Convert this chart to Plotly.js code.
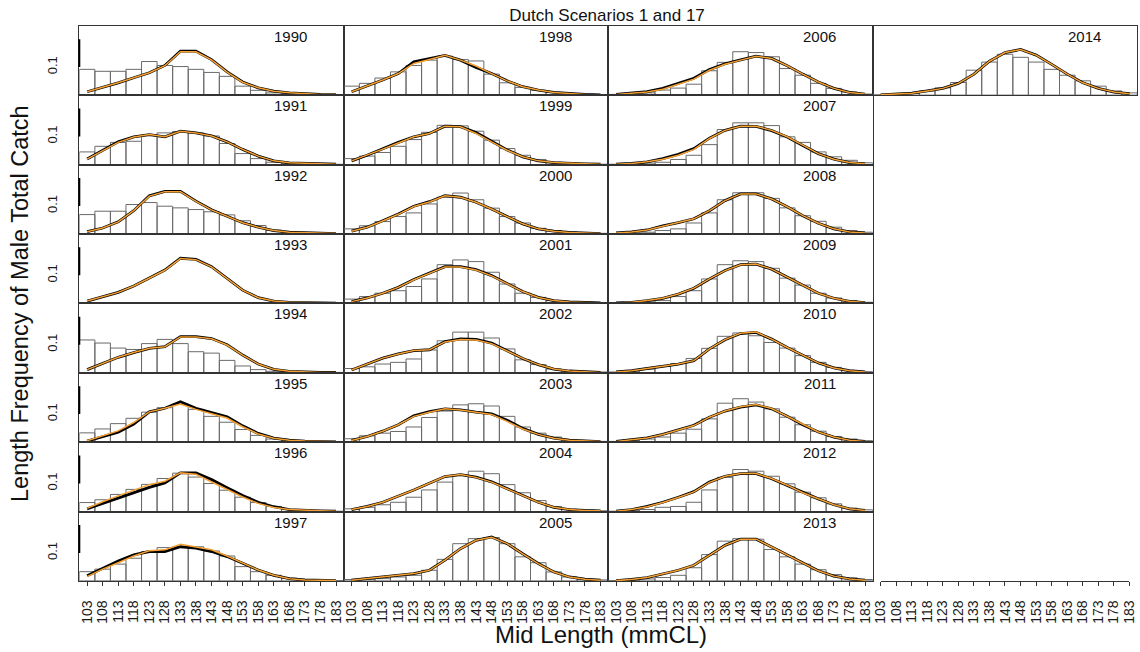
<!DOCTYPE html>
<html><head><meta charset="utf-8">
<script src="https://cdn.plot.ly/plotly-3.0.1.min.js"></script>
<style>html,body{margin:0;padding:0;background:#fff}#chart{width:1140px;height:652px}</style>
</head><body><div id="chart"></div>
<script>
const mids = [103,108,113,118,123,128,133,138,143,148,153,158,163,168,173,178,183];
const years = [1990,1991,1992,1993,1994,1995,1996,1997,1998,1999,2000,2001,2002,2003,2004,2005,2006,2007,2008,2009,2010,2011,2012,2013,2014];

// observed proportions (bars)
const obs_1990 = [0.092,0.085,0.085,0.092,0.120,0.106,0.102,0.092,0.081,0.067,0.032,0.017,0.008,0.005,0.002,0.001,0.0004];
const obs_1991 = [0.045,0.065,0.079,0.083,0.105,0.113,0.118,0.113,0.102,0.075,0.039,0.021,0.008,0.005,0.0025,0.001,0.0007];
const obs_1992 = [0.069,0.081,0.081,0.105,0.112,0.099,0.093,0.087,0.079,0.068,0.047,0.030,0.014,0.007,0.0036,0.002,0.001];
const obs_1993 = null;
const obs_1994 = [0.117,0.106,0.088,0.083,0.104,0.119,0.104,0.075,0.070,0.044,0.024,0.011,0.005,0.0025,0.001,0.001,0.001];
const obs_1995 = [0.033,0.047,0.066,0.085,0.107,0.123,0.136,0.117,0.092,0.071,0.045,0.024,0.011,0.005,0.0025,0.001,0.001];
const obs_1996 = [0.032,0.042,0.061,0.079,0.097,0.118,0.137,0.123,0.100,0.076,0.051,0.032,0.018,0.007,0.0036,0.002,0.001];
const obs_1997 = [0.033,0.042,0.060,0.081,0.105,0.119,0.122,0.122,0.107,0.089,0.051,0.033,0.020,0.0096,0.0036,0.002,0.001];
const obs_1998 = [0.032,0.042,0.061,0.083,0.106,0.125,0.139,0.127,0.122,0.075,0.044,0.0275,0.017,0.0096,0.005,0.0025,0.001];
const obs_1999 = [0.021,0.030,0.043,0.065,0.089,0.115,0.140,0.138,0.119,0.087,0.057,0.033,0.018,0.008,0.005,0.0025,0.001];
const obs_2000 = [0.018,0.029,0.044,0.062,0.075,0.107,0.131,0.146,0.122,0.092,0.062,0.039,0.020,0.012,0.006,0.0036,0.002];
const obs_2001 = [0.015,0.024,0.036,0.045,0.060,0.087,0.138,0.155,0.149,0.111,0.069,0.036,0.021,0.0096,0.005,0.0025,0.001];
const obs_2002 = [0.015,0.021,0.031,0.037,0.049,0.081,0.114,0.145,0.145,0.124,0.085,0.046,0.029,0.013,0.007,0.0036,0.0025];
const obs_2003 = [0.012,0.0225,0.032,0.038,0.054,0.088,0.111,0.133,0.137,0.129,0.092,0.054,0.032,0.018,0.008,0.005,0.0025];
const obs_2004 = [0.0096,0.015,0.024,0.033,0.051,0.077,0.105,0.129,0.144,0.135,0.096,0.067,0.039,0.018,0.008,0.0036,0.0025];
const obs_2005 = [0.005,0.006,0.008,0.014,0.020,0.038,0.077,0.133,0.151,0.155,0.133,0.086,0.065,0.032,0.014,0.007,0.0036];
const obs_2006 = [0.0025,0.0036,0.008,0.018,0.025,0.039,0.087,0.117,0.155,0.152,0.137,0.095,0.071,0.042,0.024,0.011,0.0036];
const obs_2007 = [0.001,0.0025,0.005,0.008,0.018,0.033,0.071,0.125,0.149,0.149,0.139,0.099,0.079,0.045,0.0275,0.015,0.006];
const obs_2008 = [0.001,0.0025,0.006,0.012,0.018,0.039,0.075,0.122,0.147,0.147,0.127,0.093,0.065,0.045,0.024,0.012,0.006];
const obs_2009 = [0.001,0.0025,0.005,0.0096,0.024,0.045,0.087,0.138,0.152,0.149,0.125,0.090,0.065,0.036,0.019,0.0096,0.0036];
const obs_2010 = [0.0025,0.006,0.013,0.0225,0.033,0.051,0.087,0.130,0.142,0.132,0.108,0.088,0.061,0.037,0.019,0.008,0.0036];
const obs_2011 = [0.0025,0.006,0.011,0.018,0.032,0.046,0.083,0.139,0.155,0.143,0.119,0.089,0.062,0.039,0.020,0.011,0.005];
const obs_2012 = [0.001,0.0036,0.007,0.015,0.018,0.033,0.077,0.122,0.150,0.144,0.126,0.099,0.069,0.049,0.0275,0.012,0.006];
const obs_2013 = [0.001,0.0036,0.007,0.012,0.020,0.047,0.094,0.142,0.151,0.149,0.112,0.086,0.060,0.040,0.0225,0.011,0.005];
const obs_2014 = [0.001,0.0025,0.006,0.015,0.026,0.045,0.089,0.118,0.146,0.135,0.118,0.092,0.071,0.051,0.032,0.015,0.008];

// scenario 1 (black)
const s1_1990 = [0.012,0.027,0.044,0.062,0.080,0.106,0.157,0.157,0.127,0.083,0.047,0.026,0.014,0.008,0.005,0.0025,0.002];
const s1_1991 = [0.020,0.051,0.081,0.099,0.107,0.099,0.119,0.113,0.102,0.081,0.054,0.030,0.013,0.006,0.0036,0.002,0.001];
const s1_1992 = [0.008,0.021,0.043,0.083,0.136,0.152,0.152,0.117,0.086,0.062,0.040,0.024,0.012,0.006,0.0036,0.0025,0.001];
const s1_1993 = [0.008,0.024,0.039,0.062,0.089,0.119,0.161,0.157,0.131,0.089,0.047,0.020,0.008,0.0036,0.0025,0.001,0.0007];
const s1_1994 = [0.011,0.033,0.055,0.072,0.087,0.093,0.129,0.129,0.122,0.100,0.063,0.031,0.012,0.005,0.0025,0.001,0.0007];
const s1_1995 = [0.0036,0.019,0.035,0.064,0.108,0.121,0.144,0.121,0.106,0.090,0.058,0.031,0.014,0.007,0.0036,0.0025,0.001];
const s1_1996 = [0.0096,0.029,0.047,0.068,0.086,0.102,0.138,0.138,0.114,0.085,0.057,0.033,0.017,0.007,0.0036,0.0025,0.001];
const s1_1997 = [0.018,0.045,0.071,0.093,0.105,0.105,0.122,0.117,0.105,0.087,0.063,0.039,0.020,0.008,0.0036,0.0025,0.001];
const s1_1998 = [0.012,0.032,0.054,0.077,0.119,0.130,0.142,0.125,0.099,0.077,0.051,0.030,0.018,0.0096,0.005,0.0025,0.001];
const s1_1999 = [0.013,0.033,0.056,0.079,0.099,0.111,0.137,0.135,0.114,0.084,0.052,0.0275,0.013,0.007,0.0036,0.0025,0.001];
const s1_2000 = [0.0096,0.024,0.047,0.071,0.099,0.115,0.137,0.131,0.113,0.089,0.062,0.036,0.018,0.0096,0.005,0.0025,0.001];
const s1_2001 = [0.006,0.019,0.036,0.057,0.085,0.108,0.131,0.131,0.120,0.099,0.069,0.042,0.021,0.0096,0.005,0.0025,0.001];
const s1_2002 = [0.0096,0.031,0.052,0.067,0.079,0.082,0.111,0.121,0.119,0.106,0.079,0.051,0.029,0.013,0.006,0.0025,0.001];
const s1_2003 = [0.006,0.020,0.039,0.062,0.094,0.109,0.119,0.115,0.107,0.101,0.078,0.049,0.0275,0.014,0.007,0.0036,0.002];
const s1_2004 = [0.007,0.018,0.033,0.054,0.077,0.101,0.125,0.132,0.123,0.106,0.082,0.057,0.033,0.015,0.007,0.0036,0.0025];
const s1_2005 = [0.0025,0.008,0.014,0.020,0.026,0.038,0.074,0.115,0.145,0.157,0.133,0.097,0.062,0.032,0.014,0.006,0.0025];
const s1_2006 = [0.0025,0.006,0.012,0.024,0.042,0.060,0.091,0.112,0.126,0.139,0.131,0.105,0.075,0.047,0.024,0.0096,0.0036];
const s1_2007 = [0.001,0.0036,0.0096,0.021,0.036,0.057,0.094,0.122,0.137,0.136,0.121,0.098,0.068,0.039,0.019,0.007,0.0025];
const s1_2008 = [0.0036,0.007,0.014,0.029,0.040,0.054,0.083,0.119,0.143,0.143,0.125,0.097,0.065,0.038,0.018,0.007,0.0036];
const s1_2009 = [0.001,0.0036,0.0096,0.018,0.033,0.054,0.087,0.117,0.138,0.140,0.122,0.093,0.063,0.036,0.018,0.007,0.0025];
const s1_2010 = [0.0025,0.007,0.015,0.0225,0.031,0.043,0.085,0.118,0.140,0.144,0.120,0.090,0.061,0.035,0.017,0.007,0.0025];
const s1_2011 = [0.0025,0.008,0.015,0.0275,0.045,0.060,0.089,0.111,0.125,0.133,0.119,0.092,0.062,0.036,0.018,0.007,0.0025];
const s1_2012 = [0.001,0.007,0.018,0.033,0.051,0.071,0.105,0.126,0.135,0.135,0.117,0.093,0.067,0.045,0.024,0.0096,0.0036];
const s1_2013 = [0.001,0.005,0.012,0.024,0.038,0.056,0.092,0.127,0.149,0.149,0.121,0.092,0.062,0.036,0.017,0.007,0.0025];
const s1_2014 = [0.001,0.0036,0.007,0.015,0.024,0.042,0.075,0.121,0.152,0.163,0.143,0.110,0.075,0.044,0.024,0.011,0.005];

// scenario 17 (orange)
const s17_1990 = [0.012,0.027,0.044,0.062,0.080,0.105,0.155,0.155,0.126,0.082,0.046,0.026,0.014,0.008,0.005,0.0025,0.002];
const s17_1991 = [0.019,0.049,0.079,0.098,0.107,0.099,0.119,0.113,0.102,0.081,0.054,0.030,0.013,0.006,0.0036,0.002,0.001];
const s17_1992 = [0.008,0.021,0.043,0.083,0.135,0.151,0.151,0.116,0.086,0.062,0.040,0.024,0.012,0.006,0.0036,0.0025,0.001];
const s17_1993 = [0.008,0.024,0.039,0.062,0.089,0.118,0.160,0.156,0.130,0.088,0.047,0.020,0.008,0.0036,0.0025,0.001,0.0007];
const s17_1994 = [0.011,0.033,0.055,0.072,0.087,0.093,0.128,0.128,0.121,0.099,0.063,0.031,0.012,0.005,0.0025,0.001,0.0007];
const s17_1995 = [0.005,0.0225,0.040,0.070,0.108,0.121,0.136,0.117,0.102,0.086,0.055,0.029,0.014,0.007,0.0036,0.0025,0.001];
const s17_1996 = [0.011,0.035,0.056,0.076,0.096,0.108,0.138,0.133,0.106,0.079,0.052,0.029,0.014,0.007,0.0036,0.0025,0.001];
const s17_1997 = [0.015,0.042,0.065,0.089,0.108,0.111,0.131,0.122,0.111,0.089,0.063,0.039,0.020,0.008,0.0036,0.0025,0.001];
const s17_1998 = [0.012,0.032,0.054,0.077,0.113,0.127,0.142,0.125,0.104,0.077,0.051,0.030,0.018,0.0096,0.005,0.0025,0.001];
const s17_1999 = [0.013,0.033,0.055,0.077,0.099,0.111,0.137,0.135,0.111,0.081,0.051,0.0275,0.013,0.007,0.0036,0.0025,0.001];
const s17_2000 = [0.0096,0.024,0.046,0.070,0.098,0.114,0.136,0.131,0.113,0.089,0.062,0.036,0.018,0.0096,0.005,0.0025,0.001];
const s17_2001 = [0.006,0.019,0.036,0.057,0.084,0.107,0.130,0.130,0.119,0.098,0.069,0.042,0.021,0.0096,0.005,0.0025,0.001];
const s17_2002 = [0.0096,0.031,0.052,0.067,0.079,0.082,0.110,0.119,0.117,0.104,0.078,0.051,0.029,0.013,0.006,0.0025,0.001];
const s17_2003 = [0.006,0.020,0.039,0.062,0.092,0.107,0.119,0.115,0.107,0.099,0.074,0.047,0.0275,0.014,0.007,0.0036,0.002];
const s17_2004 = [0.007,0.018,0.033,0.054,0.077,0.101,0.125,0.132,0.122,0.105,0.081,0.057,0.033,0.015,0.007,0.0036,0.0025];
const s17_2005 = [0.0025,0.008,0.014,0.020,0.026,0.038,0.074,0.115,0.145,0.156,0.133,0.097,0.062,0.032,0.014,0.006,0.0025];
const s17_2006 = [0.0025,0.006,0.011,0.021,0.038,0.057,0.089,0.110,0.125,0.139,0.131,0.105,0.075,0.047,0.024,0.0096,0.0036];
const s17_2007 = [0.001,0.0036,0.0096,0.019,0.033,0.054,0.093,0.122,0.137,0.137,0.122,0.099,0.069,0.039,0.019,0.007,0.0025];
const s17_2008 = [0.0036,0.007,0.014,0.028,0.040,0.054,0.083,0.119,0.143,0.143,0.125,0.097,0.065,0.038,0.018,0.007,0.0036];
const s17_2009 = [0.001,0.0036,0.0096,0.018,0.033,0.054,0.087,0.117,0.138,0.140,0.122,0.093,0.063,0.036,0.018,0.007,0.0025];
const s17_2010 = [0.0025,0.007,0.015,0.0225,0.031,0.043,0.085,0.118,0.141,0.145,0.120,0.090,0.061,0.035,0.017,0.007,0.0025];
const s17_2011 = [0.0025,0.008,0.015,0.027,0.044,0.059,0.089,0.111,0.126,0.134,0.120,0.092,0.062,0.036,0.018,0.007,0.0025];
const s17_2012 = [0.001,0.007,0.017,0.032,0.050,0.070,0.104,0.126,0.136,0.136,0.118,0.094,0.067,0.045,0.024,0.0096,0.0036];
const s17_2013 = [0.001,0.005,0.012,0.024,0.038,0.056,0.092,0.127,0.149,0.149,0.121,0.092,0.062,0.036,0.017,0.007,0.0025];
const s17_2014 = [0.001,0.0036,0.007,0.015,0.024,0.042,0.075,0.121,0.152,0.163,0.143,0.110,0.075,0.044,0.024,0.011,0.005];

const obsData = [obs_1990,obs_1991,obs_1992,obs_1993,obs_1994,obs_1995,obs_1996,obs_1997,obs_1998,obs_1999,obs_2000,obs_2001,obs_2002,obs_2003,obs_2004,obs_2005,obs_2006,obs_2007,obs_2008,obs_2009,obs_2010,obs_2011,obs_2012,obs_2013,obs_2014];
const s1Data = [s1_1990,s1_1991,s1_1992,s1_1993,s1_1994,s1_1995,s1_1996,s1_1997,s1_1998,s1_1999,s1_2000,s1_2001,s1_2002,s1_2003,s1_2004,s1_2005,s1_2006,s1_2007,s1_2008,s1_2009,s1_2010,s1_2011,s1_2012,s1_2013,s1_2014];
const s17Data = [s17_1990,s17_1991,s17_1992,s17_1993,s17_1994,s17_1995,s17_1996,s17_1997,s17_1998,s17_1999,s17_2000,s17_2001,s17_2002,s17_2003,s17_2004,s17_2005,s17_2006,s17_2007,s17_2008,s17_2009,s17_2010,s17_2011,s17_2012,s17_2013,s17_2014];

const W = 1140, H = 652;
const colLeft = 79.3, colW = 264.5, rowTop = 25.7, rowH = 69.4;
const FONT = 'Arial, "Liberation Sans", sans-serif';
const traces = [], annotations = [], shapes = [];
const layout = {
  width: W, height: H, margin: {l:0, r:0, t:0, b:0},
  paper_bgcolor: '#fff', plot_bgcolor: 'rgba(0,0,0,0)',
  font: {family: FONT, color: '#111'},
  showlegend: false, bargap: 0,
  title: {text: 'Dutch Scenarios 1 and 17', font: {size: 17, family: FONT, color: '#111'},
          x: 607/W, xanchor: 'center', xref: 'paper', y: 1 - 15/H, yanchor: 'middle', yref: 'container'}
};

years.forEach((yr, i) => {
  const col = Math.floor(i/8), row = i % 8, k = i + 1;
  const xs = k === 1 ? 'x' : 'x' + k, ys = k === 1 ? 'y' : 'y' + k;
  const xName = k === 1 ? 'xaxis' : 'xaxis' + k, yName = k === 1 ? 'yaxis' : 'yaxis' + k;
  const x0 = (colLeft + col*colW)/W, x1 = (colLeft + (col+1)*colW)/W;
  const yTop = rowTop + row*rowH, yBot = yTop + rowH;
  const obs = obsData[i];
  if (obs) traces.push({type:'bar', x: mids, y: obs, width: 5, xaxis: xs, yaxis: ys,
    marker: {color: 'rgba(255,255,255,0)', line: {color: '#6a6a6a', width: 1}}, hoverinfo: 'skip'});
  traces.push({type:'scatter', mode:'lines', x: mids, y: s1Data[i], xaxis: xs, yaxis: ys,
    line: {color: '#000', width: 2.8}, hoverinfo: 'skip'});
  traces.push({type:'scatter', mode:'lines', x: mids, y: s17Data[i], xaxis: xs, yaxis: ys,
    line: {color: '#F5A031', width: 1.5}, hoverinfo: 'skip'});
  const bottom = row === 7;
  layout[xName] = {domain: [x0, x1], range: [100.5, 185.5], anchor: ys,
    showline: true, mirror: true, linecolor: '#333', linewidth: 1,
    showgrid: false, zeroline: false, fixedrange: true,
    ticks: bottom ? 'outside' : '', ticklen: 4, tickcolor: '#333',
    tickmode: 'array', tickvals: mids, ticktext: mids.map(String),
    showticklabels: bottom, tickangle: -90, ticklabelstandoff: 9,
    tickfont: {size: 14, family: FONT, color: '#1a1a1a'}};
  layout[yName] = {domain: [1 - yBot/H, 1 - yTop/H], range: [0, 0.248], anchor: xs,
    showline: true, mirror: true, linecolor: '#333', linewidth: 1,
    showgrid: false, zeroline: false, fixedrange: true, ticks: '',
    tickmode: 'array', tickvals: [0.1, 0.2], ticktext: ['0.1', ''],
    showticklabels: col === 0, tickangle: -90, ticklabelstandoff: 16,
    tickfont: {size: 13, family: FONT, color: '#1a1a1a'}};
  if (col === 0) shapes.push({type:'line', xref: xs + ' domain', yref: ys, x0: 0, x1: 0, y0: 0.1, y1: 0.2,
    line: {color: '#000', width: 2}});
  annotations.push({xref: xs, yref: ys + ' domain', x: 168.5, y: 1 - 10.6/rowH, text: String(yr),
    showarrow: false, xanchor: 'center', yanchor: 'middle', font: {size: 15, family: FONT, color: '#111'}});
});

// standalone axis under the empty fourth column
{
  const yTop = rowTop + 7*rowH, yBot = yTop + rowH;
  traces.push({type:'scatter', mode:'lines', x: [], y: [], xaxis: 'x26', yaxis: 'y26', hoverinfo: 'skip'});
  layout.xaxis26 = {domain: [880.5/W, 1129.4/W], range: [103, 183], anchor: 'y26',
    showline: true, mirror: false, linecolor: '#333', linewidth: 1, showgrid: false, zeroline: false,
    ticks: 'outside', ticklen: 4, tickcolor: '#333', tickmode: 'array', tickvals: mids, ticktext: mids.map(String),
    tickangle: -90, ticklabelstandoff: 9, tickfont: {size: 14, family: FONT, color: '#1a1a1a'}, fixedrange: true};
  layout.yaxis26 = {domain: [1 - yBot/H, 1 - yTop/H], range: [0, 0.248], anchor: 'x26', visible: false, fixedrange: true};
}

annotations.push({xref:'paper', yref:'paper', x: 601/W, y: 1 - 634/H, text: 'Mid Length (mmCL)', showarrow: false,
  xanchor:'center', yanchor:'middle', font: {size: 24, family: FONT, color: '#111'}});
annotations.push({xref:'paper', yref:'paper', x: 20/W, y: 1 - 304/H, text: 'Length Frequency of Male Total Catch', showarrow: false,
  textangle: -90, xanchor:'center', yanchor:'middle', font: {size: 23.5, family: FONT, color: '#111'}});

layout.annotations = annotations;
layout.shapes = shapes;

Plotly.newPlot('chart', traces, layout, {staticPlot: true, displayModeBar: false});
</script>
</body></html>
